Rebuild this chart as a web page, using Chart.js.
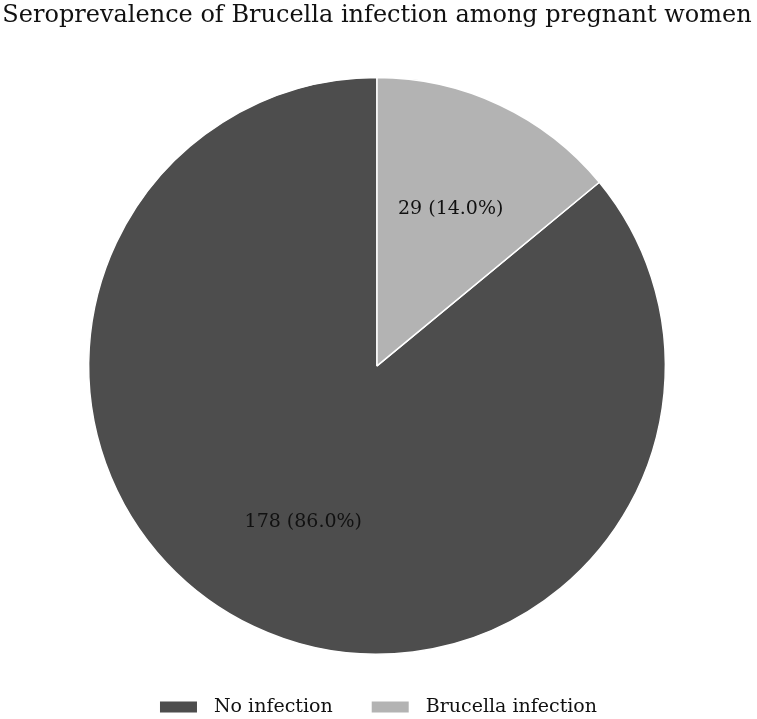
<!DOCTYPE html>
<html>
<head>
<meta charset="utf-8">
<script src="https://cdn.jsdelivr.net/npm/chart.js@4"></script>
<style>
  html, body { margin: 0; padding: 0; background: #fff; }
  #wrap { width: 757px; height: 719px; }
</style>
</head>
<body>
<div id="wrap"><canvas id="pie"></canvas></div>
<script>
// --- data ---
const categories = ['No infection', 'Brucella infection'];
const counts = [178, 29];
const sliceColors = ['#4d4d4d', '#b3b3b3'];
const titleText = 'Seroprevalence of Brucella infection among pregnant women';

const FONT = "'DejaVu Serif', serif";
const total = counts.reduce((a, b) => a + b, 0);
// brucella slice sits just clockwise of 12 o'clock
const startRotation = 360 * counts[1] / total;

// value + percent labels at 0.6 of the radius
const sliceLabels = {
  id: 'sliceLabels',
  afterDatasetsDraw(chart) {
    const ctx = chart.ctx;
    const meta = chart.getDatasetMeta(0);
    ctx.save();
    ctx.font = '19px ' + FONT;
    ctx.fillStyle = '#111';
    ctx.textAlign = 'center';
    ctx.textBaseline = 'middle';
    meta.data.forEach((arc, i) => {
      const p = arc.getProps(['x', 'y', 'startAngle', 'endAngle', 'outerRadius'], true);
      const mid = (p.startAngle + p.endAngle) / 2;
      const r = p.outerRadius * 0.6;
      const pct = (100 * counts[i] / total).toFixed(1);
      ctx.fillText(counts[i] + ' (' + pct + '%)', p.x + Math.cos(mid) * r, p.y + Math.sin(mid) * r);
    });
    ctx.restore();
  }
};

// bottom legend, matplotlib style
const bottomLegend = {
  id: 'bottomLegend',
  afterDraw(chart) {
    const ctx = chart.ctx;
    ctx.save();
    ctx.font = '19px ' + FONT;
    ctx.textBaseline = 'middle';
    const boxW = 37, boxH = 11, gap = 17, itemGap = 39;
    const widths = categories.map(c => boxW + gap + ctx.measureText(c).width);
    const full = widths.reduce((a, b) => a + b, 0) + itemGap * (categories.length - 1);
    let x = (chart.width - full) / 2;
    const y = 707;
    categories.forEach((c, i) => {
      ctx.fillStyle = sliceColors[i];
      ctx.fillRect(x, y - boxH / 2, boxW, boxH);
      ctx.fillStyle = '#111';
      ctx.fillText(c, x + boxW + gap, y);
      x += widths[i] + itemGap;
    });
    ctx.restore();
  }
};

new Chart(document.getElementById('pie'), {
  type: 'pie',
  data: {
    labels: categories,
    datasets: [{
      data: counts,
      backgroundColor: sliceColors,
      borderColor: '#ffffff',
      borderWidth: 1.5
    }]
  },
  options: {
    responsive: true,
    maintainAspectRatio: false,
    animation: false,
    rotation: startRotation,
    layout: { padding: { top: 0, bottom: 64, left: 0, right: 3 } },
    plugins: {
      legend: { display: false },
      tooltip: { enabled: false },
      title: {
        display: true,
        text: titleText,
        color: '#111',
        font: { family: FONT, size: 24, weight: 'normal' },
        padding: { top: 1, bottom: 47 }
      }
    }
  },
  plugins: [sliceLabels, bottomLegend]
});
</script>
</body>
</html>
